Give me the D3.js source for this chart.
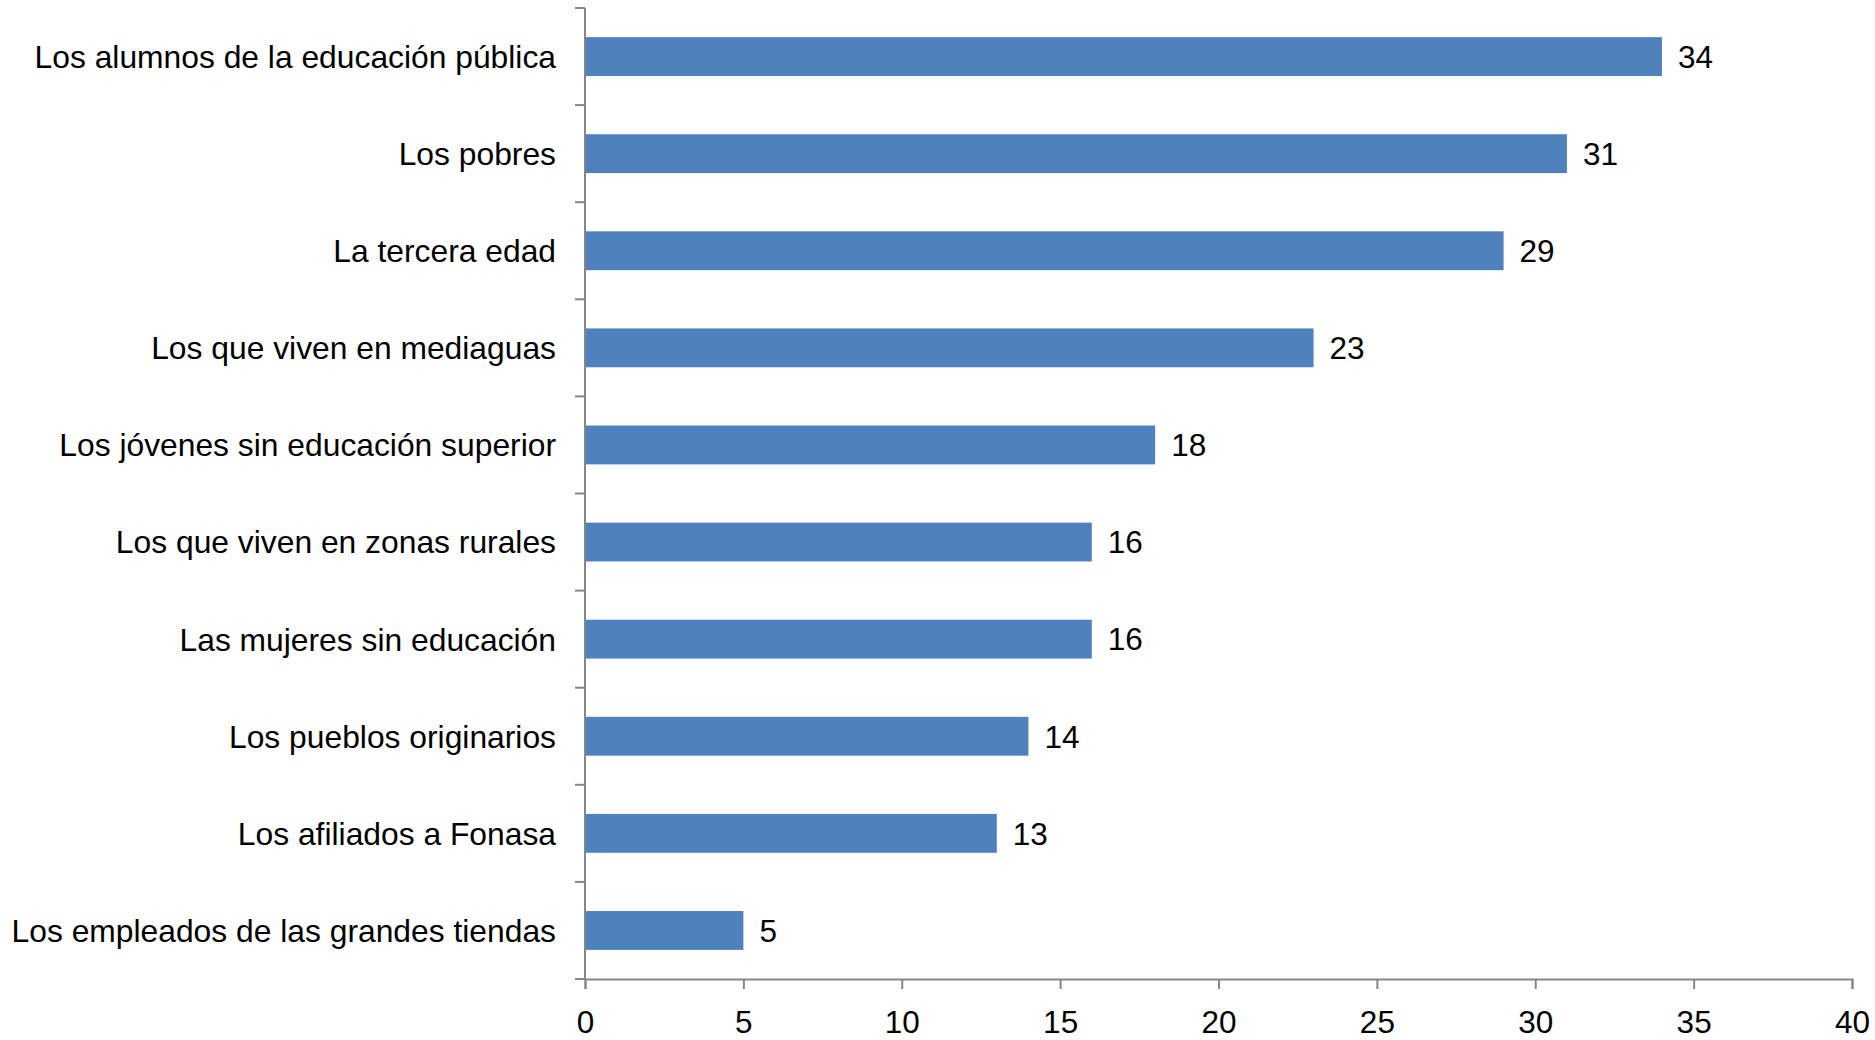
<!DOCTYPE html>
<html lang="es">
<head>
<meta charset="UTF-8">
<title>Chart</title>
<script src="https://d3js.org/d3.v7.min.js"></script>
<style>
  body { margin: 0; background: #fff; }
  svg { display: block; }
  text { font-family: Arial, "Liberation Sans", sans-serif; fill: #000; }
</style>
</head>
<body>
<svg id="chart" width="1875" height="1040"></svg>
<script>
// data, top to bottom
const categories = [
  "Los alumnos de la educación pública",
  "Los pobres",
  "La tercera edad",
  "Los que viven en mediaguas",
  "Los jóvenes sin educación superior",
  "Los que viven en zonas rurales",
  "Las mujeres sin educación",
  "Los pueblos originarios",
  "Los afiliados a Fonasa",
  "Los empleados de las grandes tiendas"
];
const values = [34, 31, 29, 23, 18, 16, 16, 14, 13, 5];
const xTicks = [0, 5, 10, 15, 20, 25, 30, 35, 40];

const svg = d3.select("#chart");
const fontSize = 31.5;
const labelSize = 31.8;

const x = d3.scaleLinear().domain([0, 40]).range([585, 1852]);
const y = d3.scaleBand().domain(categories).range([8, 979])
    .paddingInner(0.6).paddingOuter(0.3);

const axisColor = "#868686";

// bars
svg.append("g").selectAll("rect")
  .data(values)
  .join("rect")
  .attr("x", x(0))
  .attr("y", (d, i) => y(categories[i]))
  .attr("width", d => x(d) - x(0))
  .attr("height", y.bandwidth())
  .attr("fill", "#4F81BD");

// value labels
svg.append("g").selectAll("text")
  .data(values)
  .join("text")
  .attr("x", d => x(d) + 16)
  .attr("y", (d, i) => y(categories[i]) + y.bandwidth() / 2)
  .attr("dy", "0.36em")
  .style("font-size", fontSize + "px")
  .text(d => d);

// x axis
const xAxis = svg.append("g")
  .attr("transform", `translate(0,${979})`)
  .call(d3.axisBottom(x).tickValues(xTicks).tickSize(10).tickPadding(22));
xAxis.select(".domain").attr("stroke", axisColor).attr("stroke-width", 2);
xAxis.selectAll(".tick line").attr("stroke", axisColor).attr("stroke-width", 2);
xAxis.selectAll(".tick text").style("font-size", fontSize + "px")
  .style("font-family", "Arial, 'Liberation Sans', sans-serif").attr("fill", "#000");

// y axis line with ticks at category boundaries
const step = y.step();
const y0 = y.range()[0];
const boundaries = d3.range(categories.length + 1).map(i => y0 + i * step);
const yAxis = svg.append("g");
yAxis.append("line")
  .attr("x1", x(0)).attr("x2", x(0))
  .attr("y1", y0).attr("y2", 979)
  .attr("stroke", axisColor).attr("stroke-width", 2);
yAxis.selectAll("line.tk")
  .data(boundaries)
  .join("line")
  .attr("class", "tk")
  .attr("x1", x(0) - 10).attr("x2", x(0))
  .attr("y1", d => d).attr("y2", d => d)
  .attr("stroke", axisColor).attr("stroke-width", 2);

// category labels
yAxis.selectAll("text")
  .data(categories)
  .join("text")
  .attr("x", x(0) - 29)
  .attr("y", d => y(d) + y.bandwidth() / 2)
  .attr("dy", "0.36em")
  .attr("text-anchor", "end")
  .style("font-size", labelSize + "px")
  .text(d => d);
</script>
</body>
</html>
